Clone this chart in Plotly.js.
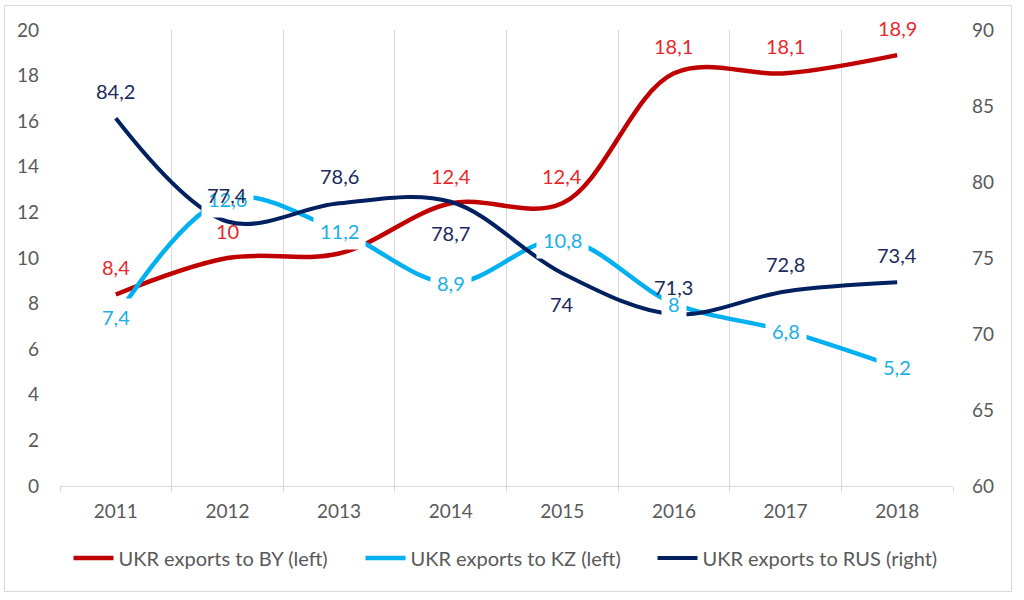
<!DOCTYPE html>
<html>
<head>
<meta charset="utf-8">
<script src="https://cdn.plot.ly/plotly-3.0.1.min.js"></script>
<style>
  body { margin: 0; background: #fff; }
  #frame { position: absolute; left: 4px; top: 5px; width: 1006px; height: 585px; border: 1px solid #d9d9d9; }
  #chart { position: absolute; left: 0; top: 0; width: 1024px; height: 600px; }
</style>
</head>
<body>
<div id="frame"></div>
<div id="chart"></div>
<script>
const years = ['2011', '2012', '2013', '2014', '2015', '2016', '2017', '2018'];

const exportsBY = [8.4, 10, 10.2, 12.4, 12.4, 18.1, 18.1, 18.9];
const exportsKZ = [7.4, 12.6, 11.2, 8.9, 10.8, 8, 6.8, 5.2];
const exportsRUS = [84.2, 77.4, 78.6, 78.7, 74, 71.3, 72.8, 73.4];

// which points carry a visible label, and where the RUS labels sit
const byLabelShown = [true, true, false, true, true, true, true, true];
const rusLabelSide = ['above', 'above', 'above', 'below', 'below', 'above', 'above', 'above'];

const FONT = 'Lato, "Open Sans", sans-serif';
const GREY = '#595959';

function fmt(v) {
  return String(v).replace('.', ',');
}

const traces = [
  {
    x: years, y: exportsBY, name: 'UKR exports to BY (left)',
    mode: 'lines', line: {shape: 'spline', smoothing: 1, color: '#C00000', width: 4.5},
    yaxis: 'y', hoverinfo: 'skip'
  },
  {
    x: years, y: exportsKZ, name: 'UKR exports to KZ (left)',
    mode: 'lines', line: {shape: 'spline', smoothing: 1, color: '#00B0F0', width: 4.5},
    yaxis: 'y', hoverinfo: 'skip'
  },
  {
    x: years, y: exportsRUS, name: 'UKR exports to RUS (right)',
    mode: 'lines', line: {shape: 'spline', smoothing: 1, color: '#002060', width: 4},
    yaxis: 'y2', hoverinfo: 'skip'
  }
];

const annotations = [];

// annotation x uses the category index, a string like '2011' is read as a number

// BY labels sit above the line
years.forEach((yr, i) => {
  if (!byLabelShown[i]) return;
  annotations.push({
    x: i, y: exportsBY[i], xref: 'x', yref: 'y', text: fmt(exportsBY[i]),
    showarrow: false, yshift: 27, font: {family: FONT, size: 20, color: '#E8272C'}
  });
});

// KZ labels are centred on the point with a white box that hides the line
years.forEach((yr, i) => {
  annotations.push({
    x: i, y: exportsKZ[i], xref: 'x', yref: 'y', text: fmt(exportsKZ[i]),
    showarrow: false, yshift: 0, bgcolor: '#ffffff', borderpad: 6,
    font: {family: FONT, size: 20, color: '#1AAFE6'}
  });
});

// RUS labels, on the right axis
years.forEach((yr, i) => {
  annotations.push({
    x: i, y: exportsRUS[i], xref: 'x', yref: 'y2', text: fmt(exportsRUS[i]),
    showarrow: false, yshift: rusLabelSide[i] === 'above' ? 27 : -31,
    font: {family: FONT, size: 20, color: '#1B2A5C'}
  });
});

const layout = {
  width: 1024,
  height: 600,
  margin: {l: 60, r: 71, t: 30, b: 114},
  paper_bgcolor: 'rgba(0,0,0,0)',
  plot_bgcolor: 'rgba(0,0,0,0)',
  font: {family: FONT, size: 19, color: GREY},
  showlegend: true,
  legend: {
    orientation: 'h', x: 0.5, xanchor: 'center', y: -0.158, yanchor: 'middle',
    font: {family: FONT, size: 20, color: GREY}, itemwidth: 40, traceorder: 'normal',
    entrywidth: 237
  },
  xaxis: {
    type: 'category',
    range: [-0.5, 7.5],
    tickson: 'boundaries',
    showgrid: true, gridcolor: '#d9d9d9', gridwidth: 1,
    showline: true, linecolor: '#d9d9d9', linewidth: 1,
    ticks: 'outside', ticklen: 5, tickcolor: '#d9d9d9',
    ticklabelstandoff: 8,
    tickfont: {family: FONT, size: 19, color: GREY},
    zeroline: false, fixedrange: true
  },
  yaxis: {
    range: [0, 20], dtick: 2, tick0: 0,
    showgrid: false, zeroline: false, showline: false, ticks: '',
    ticklabelstandoff: 20,
    tickfont: {family: FONT, size: 19, color: GREY}, fixedrange: true
  },
  yaxis2: {
    range: [60, 90], dtick: 5, tick0: 60,
    overlaying: 'y', side: 'right',
    showgrid: false, zeroline: false, showline: false, ticks: '',
    ticklabelstandoff: 18,
    tickfont: {family: FONT, size: 19, color: GREY}, fixedrange: true
  },
  annotations: annotations
};

Plotly.newPlot('chart', traces, layout, {displayModeBar: false, staticPlot: true});
</script>
</body>
</html>
